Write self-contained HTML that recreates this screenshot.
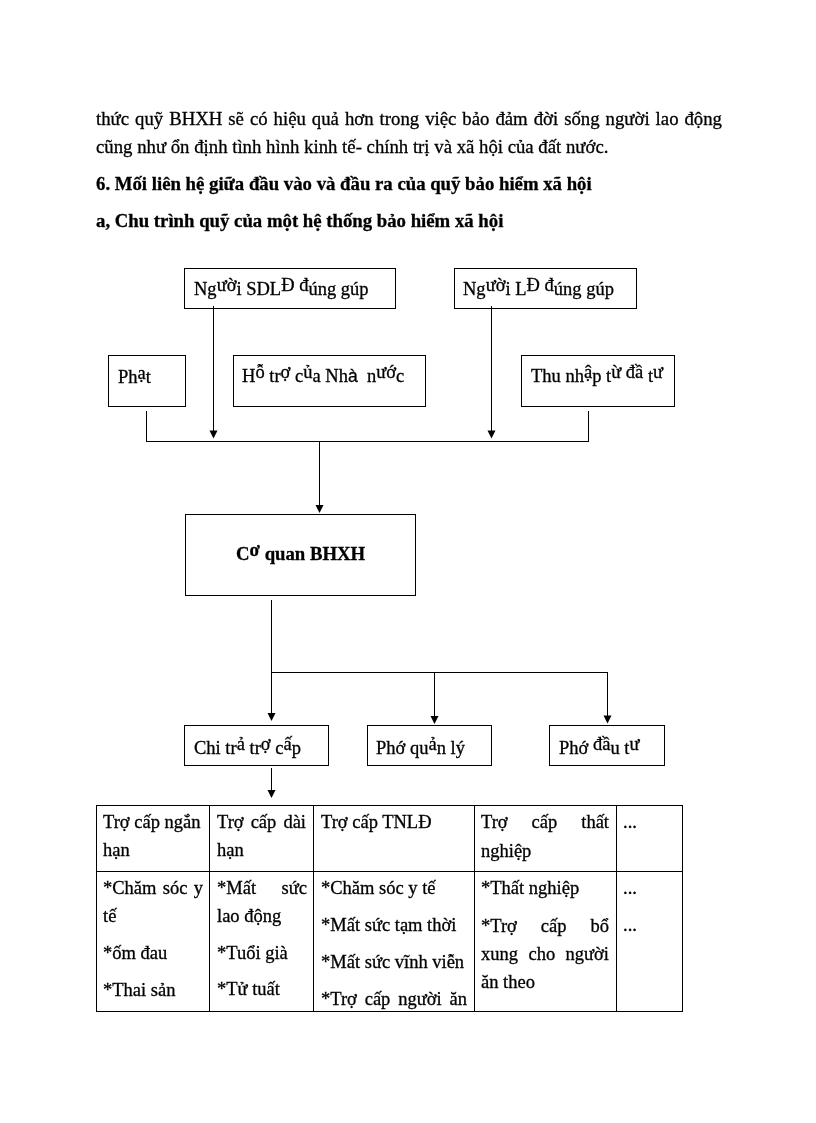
<!DOCTYPE html>
<html>
<head>
<meta charset="utf-8">
<style>
html,body{margin:0;padding:0;background:#fff;}
body{filter:grayscale(1);}
body{width:816px;height:1123px;position:relative;overflow:hidden;font-family:"Liberation Serif",serif;color:#000;}
.t{-webkit-text-stroke:0.3px #000;position:absolute;white-space:pre;font-size:18.5px;line-height:20px;height:20px;}
.b{font-weight:bold;font-size:18.75px;}
.p{font-size:18.75px;}
.j{text-align:justify;text-align-last:justify;white-space:normal;}
.s{font-size:18.5px;}
.u{position:relative;top:-4px;}
.bx{position:absolute;border:1px solid #000;box-sizing:border-box;}
.ln{position:absolute;background:#000;}
svg{position:absolute;left:0;top:0;}
</style>
</head>
<body>
<!-- paragraph -->
<div class="t j p" style="left:96px;top:109px;width:626px;">thức quỹ BHXH sẽ có hiệu quả hơn trong việc bảo đảm đời sống người lao động</div>
<div class="t p" style="left:96px;top:137px;">cũng như ổn định tình hình kinh tế- chính trị và xã hội của đất nước.</div>
<div class="t b" style="left:96px;top:174px;">6. Mối liên hệ giữa đầu vào và đầu ra của quỹ bảo hiểm xã hội</div>
<div class="t b" style="left:96px;top:211px;">a, Chu trình quỹ của một hệ thống bảo hiểm xã hội</div>

<!-- boxes -->
<div class="bx" style="left:184px;top:268px;width:212px;height:41px;"></div>
<div class="bx" style="left:454px;top:268px;width:183px;height:41px;"></div>
<div class="bx" style="left:108px;top:355px;width:78px;height:52px;"></div>
<div class="bx" style="left:233px;top:355px;width:193px;height:52px;"></div>
<div class="bx" style="left:521px;top:355px;width:154px;height:52px;"></div>
<div class="bx" style="left:185px;top:514px;width:231px;height:82px;"></div>
<div class="bx" style="left:184px;top:725px;width:145px;height:41px;"></div>
<div class="bx" style="left:367px;top:725px;width:125px;height:41px;"></div>
<div class="bx" style="left:549px;top:725px;width:116px;height:41px;"></div>

<!-- connectors -->
<svg width="816" height="1123" viewBox="0 0 816 1123" shape-rendering="crispEdges">
<g stroke="#000" stroke-width="1" fill="none">
<path d="M213.5 306V431M491.5 306V431M146.5 411V441.5M588.5 411V441.5M146 441.5H589M319.5 441V506M271.5 600V714M271 672.5H608M434.5 672V717M607.5 672V717M271.5 768V791"/>
</g>
</svg>
<svg width="816" height="1123" viewBox="0 0 816 1123">
<g fill="#000">
<path d="M209.5 430.5H217.5L213.5 438.5Z"/>
<path d="M487.5 430.5H495.5L491.5 438.5Z"/>
<path d="M315.5 505H323.5L319.5 513Z"/>
<path d="M267.5 713H275.5L271.5 721Z"/>
<path d="M430.5 716H438.5L434.5 724Z"/>
<path d="M603.5 715.5H611.5L607.5 723.5Z"/>
<path d="M267.5 790H275.5L271.5 798Z"/>
</g>
</svg>

<!-- box texts -->
<div class="t s" style="left:194px;top:279px;">Ng<span class="u">ườ</span>i SDL<span class="u">Đ</span> <span class="u">đ</span>úng gúp</div>
<div class="t s" style="left:463px;top:279px;">Ng<span class="u">ườ</span>i L<span class="u">Đ</span> <span class="u">đ</span>úng gúp</div>
<div class="t s" style="left:118px;top:367px;">Ph<span class="u">ạ</span>t</div>
<div class="t s" style="left:242px;top:366px;">H<span class="u">ỗ</span> tr<span class="u">ợ</span> c<span class="u">ủ</span>a Nh<span style="font-family:'Liberation Sans',sans-serif;font-size:17.5px">à</span>  n<span class="u">ướ</span>c</div>
<div class="t s" style="left:531px;top:366px;">Thu nh<span class="u">ậ</span>p t<span class="u">ừ</span> <span class="u">đầ</span> t<span class="u">ư</span></div>
<div class="t b" style="left:236px;top:544px;">C<span class="u">ơ</span> quan BHXH</div>
<div class="t s" style="left:194px;top:738px;">Chi tr<span class="u">ả</span> tr<span class="u">ợ</span> c<span class="u">ấ</span>p</div>
<div class="t s" style="left:376px;top:738px;">Phớ qu<span class="u">ả</span>n lý</div>
<div class="t s" style="left:559px;top:738px;">Phớ <span class="u">đầ</span>u t<span class="u">ư</span></div>

<!-- table -->
<div class="bx" style="left:96px;top:805px;width:587px;height:207px;"></div>
<div class="ln" style="left:96px;top:871px;width:587px;height:1px;"></div>
<div class="ln" style="left:209px;top:805px;width:1px;height:207px;"></div>
<div class="ln" style="left:313px;top:805px;width:1px;height:207px;"></div>
<div class="ln" style="left:474px;top:805px;width:1px;height:207px;"></div>
<div class="ln" style="left:616px;top:805px;width:1px;height:207px;"></div>

<!-- col1 -->
<div class="t" style="left:103px;top:812px;">Trợ cấp ngắn</div>
<div class="t" style="left:103px;top:840px;">hạn</div>
<div class="t j" style="left:103px;top:878px;width:100px;">*Chăm sóc y</div>
<div class="t" style="left:103px;top:906px;">tế</div>
<div class="t" style="left:103px;top:943px;">*ốm đau</div>
<div class="t" style="left:103px;top:980px;">*Thai sản</div>
<!-- col2 -->
<div class="t j" style="left:217px;top:812px;width:89px;">Trợ cấp dài</div>
<div class="t" style="left:217px;top:840px;">hạn</div>
<div class="t j" style="left:217px;top:878px;width:90px;">*Mất sức</div>
<div class="t" style="left:217px;top:906px;">lao động</div>
<div class="t" style="left:217px;top:943px;">*Tuổi già</div>
<div class="t" style="left:217px;top:979px;">*Tử tuất</div>
<!-- col3 -->
<div class="t" style="left:321px;top:812px;">Trợ cấp TNLĐ</div>
<div class="t" style="left:321px;top:878px;">*Chăm sóc y tế</div>
<div class="t" style="left:321px;top:915px;">*Mất sức tạm thời</div>
<div class="t" style="left:321px;top:952px;">*Mất sức vĩnh viễn</div>
<div class="t j" style="left:321px;top:989px;width:146px;">*Trợ cấp người ăn</div>
<!-- col4 -->
<div class="t j" style="left:481px;top:812px;width:128px;">Trợ cấp thất</div>
<div class="t" style="left:481px;top:841px;">nghiệp</div>
<div class="t" style="left:481px;top:878px;">*Thất nghiệp</div>
<div class="t j" style="left:481px;top:916px;width:128px;">*Trợ cấp bổ</div>
<div class="t j" style="left:481px;top:944px;width:128px;">xung cho người</div>
<div class="t" style="left:481px;top:972px;">ăn theo</div>
<!-- col5 -->
<div class="t" style="left:623px;top:812px;">...</div>
<div class="t" style="left:623px;top:878px;">...</div>
<div class="t" style="left:623px;top:915px;">...</div>
</body>
</html>
